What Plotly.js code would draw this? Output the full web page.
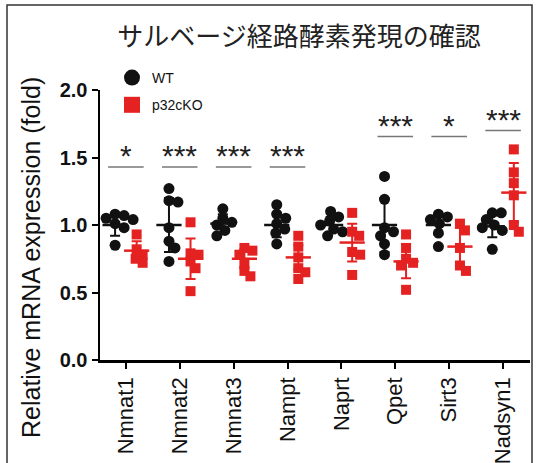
<!DOCTYPE html>
<html><head><meta charset="utf-8">
<script src="https://cdn.plot.ly/plotly-3.0.1.min.js"></script>
<style>html,body{margin:0;padding:0;background:#fff}</style>
</head><body><div id="chart" style="width:537px;height:463px"></div>
<script>
const genes = ['Nmnat1','Nmnat2','Nmnat3','Nampt','Naprt','Qpet','Sirt3','Nadsyn1'];
const wtValues = [
  [1.08,1.07,1.05,1.04,1.01,0.98,0.85],
  [1.27,1.18,1.17,0.98,0.88,0.83,0.73],
  [1.12,1.05,1.02,1.00,0.96,0.92],
  [1.15,1.08,1.05,1.01,0.97,0.94,0.86],
  [1.10,1.06,1.03,1.00,0.97,0.95,0.92],
  [1.36,1.19,0.98,0.95,0.92,0.86,0.78],
  [1.08,1.06,1.04,1.01,0.94,0.84],
  [1.09,1.09,1.04,1.00,0.98,0.96,0.82]
];
const koValues = [
  [0.93,0.82,0.78,0.75,0.72],
  [1.02,0.79,0.78,0.73,0.68,0.51],
  [0.83,0.81,0.78,0.72,0.66,0.62],
  [0.92,0.84,0.76,0.68,0.65,0.60],
  [1.09,0.95,0.92,0.80,0.78,0.63],
  [0.93,0.83,0.75,0.72,0.70,0.52],
  [1.01,0.96,0.83,0.70,0.66],
  [1.56,1.39,1.31,1.22,1.00,0.95]
];
const wtMean = [1.00,1.00,1.01,1.00,1.00,1.00,1.00,0.99];
const wtSD   = [0.08,0.20,0.07,0.09,0.06,0.20,0.07,0.08];
const koMean = [0.81,0.75,0.75,0.76,0.87,0.73,0.84,1.24];
const koSD   = [0.07,0.15,0.07,0.09,0.14,0.125,0.14,0.22];
const sigLabels = ['*','***','***','***','','***','*','***'];
const sigLevels = [1.43,1.43,1.43,1.43,null,1.655,1.655,1.70];

const RED = '#e42221', BLACK = '#111111';
const OFF = 0.2;
const M = {l:100, r:7, t:90, b:103, autoexpand: false};
const W = 537, H = 463;
const xRange = [-0.48, 7.5], yRange = [0, 2];
const pxX = (W - M.l - M.r) / (xRange[1] - xRange[0]);
const pxY = (H - M.t - M.b) / (yRange[1] - yRange[0]);

// simple beeswarm: spread points sideways so markers don't pile up
function swarm(vals, center, diam) {
  const order = vals.map((v, i) => i).sort((a, b) => vals[b] - vals[a]);
  const placed = [];
  const xs = new Array(vals.length);
  order.forEach(i => {
    const yp = vals[i] * pxY;
    let best = 0;
    for (let k = 0; k < 200; k++) {
      const cand = (k % 2 ? 1 : -1) * Math.ceil(k / 2) * 1.0;
      const ok = placed.every(p => Math.hypot(p.x - cand, p.y - yp) >= diam);
      if (ok) { best = cand; break; }
    }
    placed.push({x: best, y: yp});
    xs[i] = center + best / pxX;
  });
  return xs;
}

const wtX = [], wtY = [], koX = [], koY = [];
genes.forEach((g, i) => {
  swarm(wtValues[i], i - OFF, 9).forEach((x, j) => { wtX.push(x); wtY.push(wtValues[i][j]); });
  swarm(koValues[i], i + OFF, 8).forEach((x, j) => { koX.push(x); koY.push(koValues[i][j]); });
});

const sigX = [], sigY = [];
const annotations = [];
genes.forEach((g, i) => {
  if (!sigLabels[i]) return;
  sigX.push(i - 0.33, i + 0.33, null);
  sigY.push(sigLevels[i], sigLevels[i], null);
  annotations.push({x: i, y: sigLevels[i], xref: 'x', yref: 'y', text: sigLabels[i],
    showarrow: false, yanchor: 'bottom', yshift: -7,
    font: {family: 'Arial, Liberation Sans', size: 30, color: '#222'}});
});
annotations.push({xref: 'paper', yref: 'paper', x: (31 - M.l) / (W - M.l - M.r),
  y: (H - M.b - 258) / (H - M.t - M.b), text: 'Relative mRNA expression (fold)',
  textangle: -90, showarrow: false, xanchor: 'center', yanchor: 'middle',
  font: {family: 'Arial, Liberation Sans', size: 25, color: '#111'}});

const idx = genes.map((g, i) => i);
const traces = [
  {x: wtX, y: wtY, type: 'scatter', mode: 'markers', showlegend: false,
   marker: {symbol: 'circle', size: 11, color: BLACK}},
  {x: koX, y: koY, type: 'scatter', mode: 'markers', showlegend: false,
   marker: {symbol: 'square', size: 10, color: RED}},
  {x: idx.map(i => i - OFF), y: wtMean, type: 'scatter', mode: 'markers', showlegend: false,
   marker: {symbol: 'line-ew-open', size: 18, color: BLACK, line: {width: 2.5, color: BLACK}},
   error_y: {type: 'data', array: wtSD, visible: true, color: BLACK, thickness: 2, width: 5}},
  {x: idx.map(i => i + OFF), y: koMean, type: 'scatter', mode: 'markers', showlegend: false,
   marker: {symbol: 'line-ew-open', size: 18, color: RED, line: {width: 2.5, color: RED}},
   error_y: {type: 'data', array: koSD, visible: true, color: RED, thickness: 2, width: 5}},
  {x: sigX, y: sigY, type: 'scatter', mode: 'lines', showlegend: false,
   line: {color: '#777', width: 1.5}},
  {x: [null], y: [null], type: 'scatter', mode: 'markers', name: 'WT', legendgroup: 'a',
   marker: {symbol: 'circle', size: 16, color: BLACK}},
  {x: [null], y: [null], type: 'scatter', mode: 'markers', name: 'p32cKO', legendgroup: 'b',
   marker: {symbol: 'square', size: 16, color: RED}}
];

const layout = {
  width: W, height: H, margin: M,
  paper_bgcolor: '#fff', plot_bgcolor: '#fff',
  title: {text: 'サルベージ経路酵素発現の確認', xref: 'container', yref: 'container',
    x: 299 / W, y: 1 - 37 / H, xanchor: 'center', yanchor: 'middle',
    font: {family: 'Noto Sans CJK JP', size: 26, color: '#222'}},
  xaxis: {range: xRange, tickmode: 'array', tickvals: idx, ticktext: genes, automargin: false,
    tickangle: -90, showgrid: false, zeroline: false, showline: true,
    linecolor: '#000', linewidth: 2.5, ticks: 'outside', ticklen: 6, tickwidth: 2,
    tickcolor: '#000', tickfont: {family: 'Arial, Liberation Sans', size: 22, color: '#111'}},
  yaxis: {range: yRange, tickvals: [0, 0.5, 1, 1.5, 2], tickformat: '.1f', automargin: false,
    showgrid: false, zeroline: false, showline: true, linecolor: '#000', linewidth: 2.5,
    ticks: 'outside', ticklen: 6, tickwidth: 2, tickcolor: '#000',
    tickfont: {family: 'Arial, Liberation Sans', size: 20, color: '#111', weight: 'bold'}},
  legend: {xref: 'container', yref: 'container', x: 112 / W, y: 1 - 62 / H,
    xanchor: 'left', yanchor: 'top', bgcolor: 'rgba(0,0,0,0)', tracegroupgap: 6,
    font: {family: 'Arial, Liberation Sans', size: 14, color: '#111'}},
  annotations: annotations,
  shapes: [{type: 'rect', xref: 'paper', yref: 'paper',
    x0: (7 - M.l) / (W - M.l - M.r), x1: (532 - M.l) / (W - M.l - M.r),
    y0: (H - M.b - 480) / (H - M.t - M.b), y1: (H - M.b - 5) / (H - M.t - M.b),
    line: {color: '#333', width: 1.5}, layer: 'below'}]
};

Plotly.newPlot('chart', traces, layout, {displayModeBar: false, staticPlot: true});
</script></body></html>
